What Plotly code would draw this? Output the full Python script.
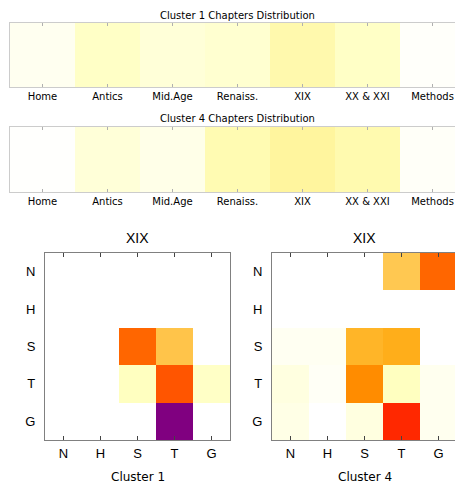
import plotly.graph_objects as go

# Chapter share per cluster (top strips)
chapters = ["Home", "Antics", "Mid.Age", "Renaiss.", "XIX", "XX & XXI", "Methods"]
cluster1_chapters = [0.024, 0.09, 0.062, 0.075, 0.14, 0.09, 0.008]
cluster4_chapters = [0.003, 0.062, 0.037, 0.13, 0.17, 0.135, 0.011]

# XIX transition matrices (rows top->bottom, columns left->right)
levels = ["N", "H", "S", "T", "G"]
cluster1_xix = [
    [0, 0, 0, 0, 0],
    [0, 0, 0, 0, 0],
    [0, 0, 0.60, 0.30, 0],
    [0, 0, 0.10, 0.70, 0.09],
    [0, 0, 0, 1.00, 0],
]
cluster4_xix = [
    [0, 0, 0, 0.29, 0.60],
    [0, 0, 0, 0, 0],
    [0.02, 0.02, 0.37, 0.40, 0],
    [0.05, 0.015, 0.50, 0.10, 0.025],
    [0.04, 0, 0.05, 0.80, 0.025],
]

colorscale = [
    [0.00, "#FFFFFF"],
    [0.10, "#FFFFC0"],
    [0.20, "#FFF090"],
    [0.30, "#FFC44A"],
    [0.40, "#FFAE1A"],
    [0.50, "#FF8C00"],
    [0.60, "#FF6600"],
    [0.70, "#FF5500"],
    [0.80, "#FF2800"],
    [1.00, "#800080"],
]

W, H = 455, 483


def px_x(p):
    return p / W


def px_y(p):
    return 1 - p / H


fig = go.Figure()

common = dict(colorscale=colorscale, zmin=0, zmax=1, showscale=False, hoverinfo="skip")

fig.add_trace(go.Heatmap(z=[cluster1_chapters], x=list(range(len(chapters))), y=[0],
                         xaxis="x", yaxis="y", **common))
fig.add_trace(go.Heatmap(z=[cluster4_chapters], x=list(range(len(chapters))), y=[0],
                         xaxis="x2", yaxis="y2", **common))
fig.add_trace(go.Heatmap(z=cluster1_xix, x=list(range(5)), y=list(range(5)),
                         xaxis="x3", yaxis="y3", **common))
fig.add_trace(go.Heatmap(z=cluster4_xix, x=list(range(5)), y=list(range(5)),
                         xaxis="x4", yaxis="y4", **common))

strip_font = dict(family="DejaVu Sans", size=10, color="black")
strip_x = dict(
    range=[-0.5, 6.5 - 10 / 65], tickmode="array", tickvals=list(range(7)), ticktext=chapters,
    ticks="inside", ticklen=3, tickcolor="#b0b0b0", showline=True, linecolor="#cccccc",
    linewidth=1, mirror="allticks", showgrid=False, zeroline=False, tickfont=strip_font,
    ticklabelstandoff=0, fixedrange=True,
)
strip_y = dict(range=[-0.5, 0.5], showticklabels=False, ticks="", showline=True,
               linecolor="#cccccc", linewidth=1, mirror=False, showgrid=False,
               zeroline=False, fixedrange=True)

mat_font = dict(family="Liberation Sans", size=13, color="black")
mat_x = dict(
    tickmode="array", tickvals=list(range(5)), ticktext=levels, ticks="inside", ticklen=4,
    tickcolor="#444444", showline=True, linecolor="#808080", linewidth=1.2,
    mirror="allticks", showgrid=False, zeroline=False, tickfont=mat_font,
    ticklabelstandoff=1, fixedrange=True,
)
mat_y = dict(
    range=[4.5, -0.5], tickmode="array", tickvals=list(range(5)), ticktext=levels,
    ticks="", showline=True, linecolor="#808080", linewidth=1.2, showgrid=False,
    zeroline=False, tickfont=mat_font, ticklabelstandoff=6, fixedrange=True,
)

fig.update_layout(
    width=W, height=H, margin=dict(l=0, r=0, t=0, b=0),
    paper_bgcolor="white", plot_bgcolor="white", showlegend=False,
    xaxis=dict(domain=[px_x(10), 1], anchor="y", **strip_x),
    yaxis=dict(domain=[px_y(87), px_y(23)], anchor="x", **strip_y),
    xaxis2=dict(domain=[px_x(10), 1], anchor="y2", **strip_x),
    yaxis2=dict(domain=[px_y(192), px_y(127)], anchor="x2", **strip_y),
    xaxis3=dict(domain=[px_x(45), px_x(230)], anchor="y3", range=[-0.5, 4.5], **mat_x),
    yaxis3=dict(domain=[px_y(440), px_y(253)], anchor="x3", mirror=True, **mat_y),
    xaxis4=dict(domain=[px_x(272), 1], anchor="y4", range=[-0.5, -0.5 + 183 / 37], **mat_x),
    yaxis4=dict(domain=[px_y(440), px_y(253)], anchor="x4", mirror=False, **mat_y),
)

title_font = dict(family="DejaVu Sans", size=10, color="black")
big_font = dict(family="Liberation Sans", size=14, color="black")
label_font = dict(family="DejaVu Sans", size=12, color="black")
texts = [
    ("Cluster 1 Chapters Distribution", 237.5, 16, title_font),
    ("Cluster 4 Chapters Distribution", 237.5, 119, title_font),
    ("XIX", 137.5, 238, big_font),
    ("XIX", 364.5, 238, big_font),
    ("Cluster 1", 137.5, 477, label_font),
    ("Cluster 4", 364.5, 477, label_font),
]
for text, x, y, font in texts:
    fig.add_annotation(text=text, x=px_x(x), y=px_y(y), xref="paper", yref="paper",
                       xanchor="center", yanchor="middle", showarrow=False, font=font)

fig.write_html("out.html")
